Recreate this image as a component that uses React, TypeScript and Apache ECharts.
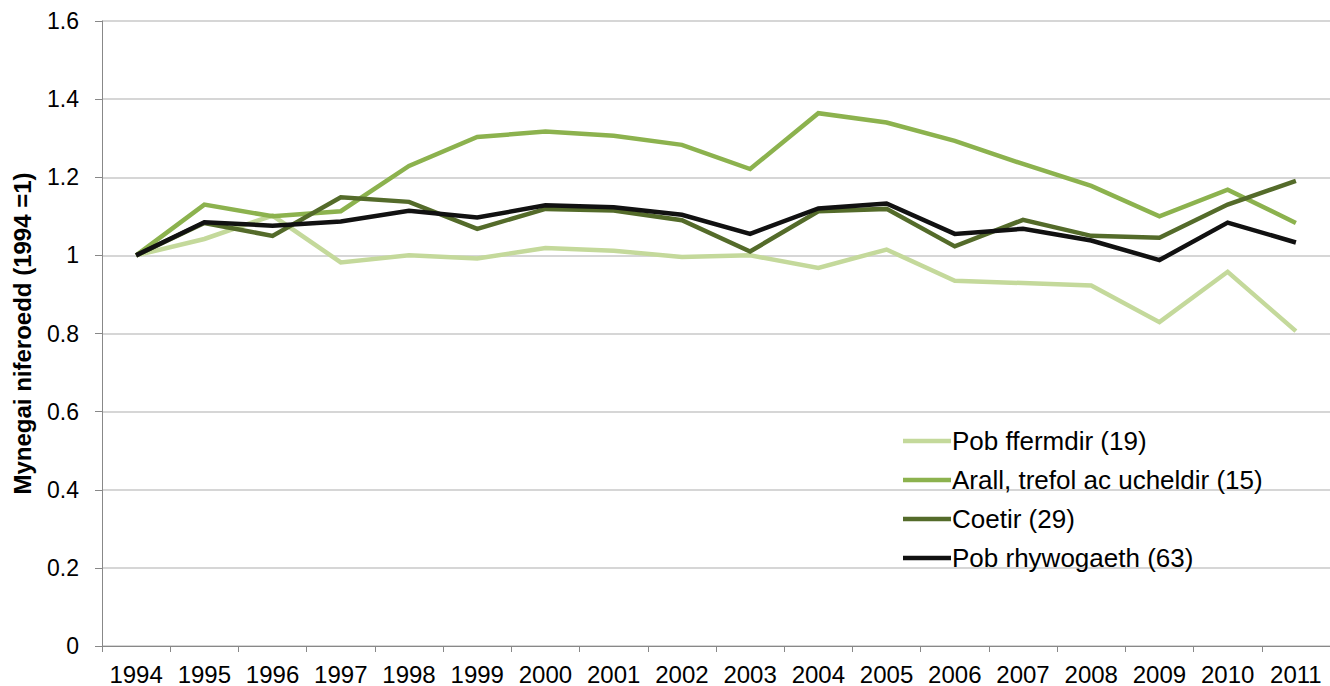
import React, { useEffect, useRef } from "react";
import * as echarts from "echarts";

const years = ["1994","1995","1996","1997","1998","1999","2000","2001","2002","2003","2004","2005","2006","2007","2008","2009","2010","2011"];

const ffermdir = [1.0, 1.042, 1.102, 0.982, 1.0, 0.992, 1.019, 1.012, 0.996, 1.0, 0.968, 1.015, 0.935, 0.929, 0.923, 0.829, 0.958, 0.806];
const arall = [1.0, 1.13, 1.10, 1.113, 1.229, 1.303, 1.317, 1.306, 1.283, 1.221, 1.364, 1.34, 1.293, 1.234, 1.178, 1.10, 1.168, 1.083];
const coetir = [1.0, 1.083, 1.05, 1.149, 1.137, 1.068, 1.119, 1.115, 1.09, 1.01, 1.113, 1.119, 1.023, 1.091, 1.05, 1.045, 1.13, 1.191];
const rhywogaeth = [1.0, 1.085, 1.076, 1.087, 1.114, 1.097, 1.128, 1.123, 1.104, 1.055, 1.12, 1.133, 1.055, 1.068, 1.038, 0.988, 1.084, 1.033];

const seriesNames = ["Pob ffermdir (19)", "Arall, trefol ac ucheldir (15)", "Coetir (29)", "Pob rhywogaeth (63)"];
const seriesColors = ["#C4D99B", "#8CB24E", "#546B2A", "#111111"];

const FONT = "Liberation Sans, Arial, sans-serif";

export default function App() {
  const ref = useRef<HTMLDivElement>(null);
  useEffect(() => {
    if (!ref.current) return;
    const chart = echarts.init(ref.current, null, { renderer: "svg" });
    const data = [ffermdir, arall, coetir, rhywogaeth];
    chart.setOption({
      animation: false,
      grid: { left: 102, right: -4, top: 21, bottom: 39, containLabel: false },
      legend: {
        orient: "vertical",
        left: 898,
        top: 423,
        itemWidth: 48,
        itemHeight: 26,
        itemGap: 13,
        data: seriesNames.map((n, i) => ({
          name: n,
          icon: "path://M0,0 L48,0 L48,4.5 L0,4.5 Z",
          itemStyle: { color: seriesColors[i] },
        })),
        textStyle: { fontFamily: FONT, fontSize: 26, color: "#000", padding: [0, 0, 0, -4] },
      },
      xAxis: {
        type: "category",
        data: years,
        boundaryGap: true,
        axisLine: { show: true, lineStyle: { color: "#888", width: 1 } },
        axisTick: { show: true, length: 6, lineStyle: { color: "#888" } },
        axisLabel: { fontFamily: FONT, fontSize: 24, color: "#000", margin: 16, interval: 0 },
        splitLine: { show: false },
      },
      yAxis: {
        type: "value",
        min: 0,
        max: 1.6,
        interval: 0.2,
        name: "Mynegai niferoedd (1994 =1)",
        nameLocation: "middle",
        nameGap: 68,
        nameTextStyle: { fontFamily: FONT, fontSize: 24, fontWeight: "bold", color: "#000" },
        axisLine: { show: true, lineStyle: { color: "#888", width: 1 } },
        axisTick: { show: true, length: 7, lineStyle: { color: "#888" } },
        axisLabel: {
          fontFamily: FONT,
          fontSize: 23,
          color: "#000",
          margin: 23,
          formatter: (v: number) => String(Math.round(v * 10) / 10),
        },
        splitLine: { show: true, lineStyle: { color: "#C8C8C8", width: 1.5 } },
      },
      series: seriesNames.map((n, i) => ({
        name: n,
        type: "line",
        data: data[i],
        symbol: "none",
        lineStyle: { color: seriesColors[i], width: 4.5, join: "miter" },
        itemStyle: { color: seriesColors[i] },
        z: 2 + i,
      })),
    });
    return () => chart.dispose();
  }, []);
  return (
    <div
      ref={ref}
      style={{ position: "absolute", left: 0, top: 0, width: 1330, height: 686, background: "#fff" }}
    />
  );
}
